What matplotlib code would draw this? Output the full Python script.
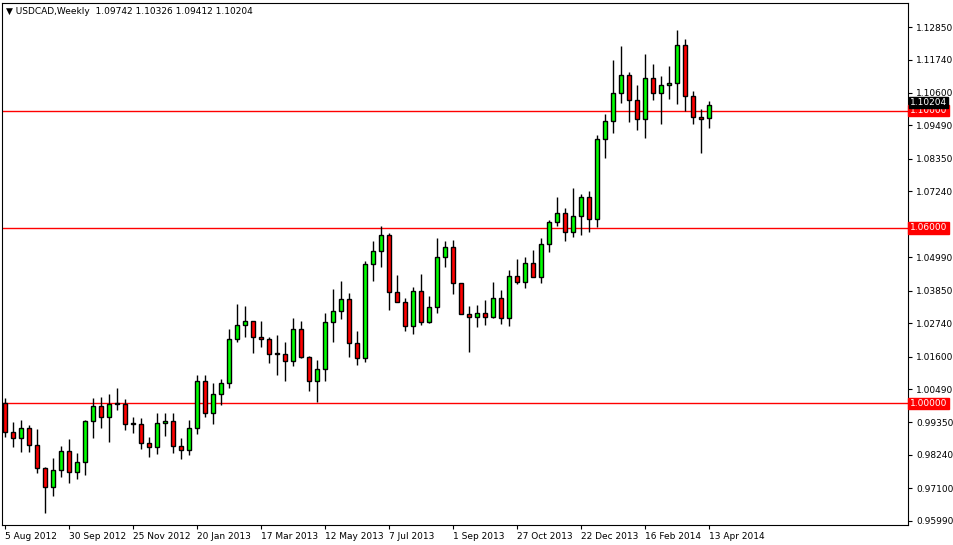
import matplotlib
matplotlib.use("Agg")
import matplotlib.pyplot as plt
import numpy as np

# weekly USDCAD, 5 Aug 2012 .. 13 Apr 2014
close = [0.9903, 0.9882, 0.9916, 0.9858, 0.978, 0.9715, 0.9773, 0.9838, 0.9766, 0.98,
         0.994, 0.9991, 0.9954, 0.9998, 0.9998, 0.993, 0.993, 0.9865, 0.9852, 0.9933,
         0.994, 0.9855, 0.9841, 0.9916, 1.0077, 0.9968, 1.0032, 1.007, 1.022, 1.0268,
         1.0282, 1.0227, 1.022, 1.0169, 1.0169, 1.0145, 1.0254, 1.0159, 1.0077, 1.0118,
         1.0278, 1.0316, 1.0357, 1.0206, 1.0155, 1.0476, 1.052, 1.0575, 1.0381, 1.0346,
         1.0265, 1.0384, 1.0278, 1.0329, 1.05, 1.0534, 1.0411, 1.0305, 1.0295, 1.0309,
         1.0295, 1.036, 1.0292, 1.0435, 1.0415, 1.048, 1.0432, 1.0544, 1.0619, 1.065,
         1.0585, 1.064, 1.0705, 1.063, 1.0903, 1.0964, 1.106, 1.1121, 1.1036, 1.0971,
         1.1111, 1.106, 1.1087, 1.1094, 1.1224, 1.105, 1.0978, 1.0971, 1.10204]
open_ = [1.0002] + close[:-1]
open_[-1] = 1.09742
high = [1.0019, 0.9937, 0.9944, 0.9927, 0.9913, 0.9783, 0.9814, 0.9855, 0.9879, 0.9831,
        0.9944, 1.0019, 1.0022, 1.0032, 1.0053, 1.0015, 0.9954, 0.9951, 0.9886, 0.9968,
        0.9968, 0.9968, 0.9882, 0.9944, 1.0097, 1.0097, 1.0070, 1.0084, 1.0254, 1.0340,
        1.0333, 1.0282, 1.0282, 1.0227, 1.0234, 1.0210, 1.0292, 1.0282, 1.0162, 1.0149,
        1.0309, 1.0391, 1.0418, 1.0377, 1.0247, 1.0486, 1.0555, 1.0606, 1.0582, 1.0439,
        1.0360, 1.0398, 1.0442, 1.0367, 1.0565, 1.0555, 1.0558, 1.0411, 1.0333, 1.0336,
        1.0353, 1.0415, 1.0387, 1.0456, 1.0493, 1.0500, 1.0524, 1.0565, 1.0626, 1.0705,
        1.0667, 1.0736, 1.0715, 1.0725, 1.0916, 1.0988, 1.1172, 1.1220, 1.1131, 1.1087,
        1.1193, 1.1159, 1.1118, 1.1152, 1.1275, 1.1244, 1.1067, 1.1005, 1.10326]
low = [0.9886, 0.9852, 0.9834, 0.9834, 0.9763, 0.9626, 0.9684, 0.9749, 0.9729, 0.9742,
       0.9756, 0.9882, 0.9916, 0.9869, 0.9978, 0.9910, 0.9899, 0.9845, 0.9817, 0.9828,
       0.9889, 0.9831, 0.9811, 0.9824, 0.9896, 0.9954, 0.9930, 0.9995, 1.0053, 1.0210,
       1.0227, 1.0172, 1.0193, 1.0138, 1.0097, 1.0077, 1.0128, 1.0155, 1.0043, 1.0005,
       1.0077, 1.0210, 1.0288, 1.0159, 1.0131, 1.0142, 1.0418, 1.0466, 1.0319, 1.0346,
       1.0247, 1.0237, 1.0268, 1.0275, 1.0309, 1.0466, 1.0374, 1.0305, 1.0176, 1.0261,
       1.0268, 1.0292, 1.0271, 1.0265, 1.0408, 1.0394, 1.0432, 1.0411, 1.0517, 1.0606,
       1.0555, 1.0568, 1.0575, 1.0585, 1.0602, 1.0838, 1.0923, 1.1026, 1.0961, 1.0933,
       1.0906, 1.1036, 1.0954, 1.1039, 1.1022, 1.0998, 1.0954, 1.0855, 1.09412]

date_labels = ["5 Aug 2012", "30 Sep 2012", "25 Nov 2012", "20 Jan 2013", "17 Mar 2013",
               "12 May 2013", "7 Jul 2013", "1 Sep 2013", "27 Oct 2013", "22 Dec 2013",
               "16 Feb 2014", "13 Apr 2014"]
date_idx = [0, 8, 16, 24, 32, 40, 48, 56, 64, 72, 80, 88]
price_ticks = [1.12850, 1.11740, 1.10600, 1.09490, 1.08350, 1.07240, 1.04990, 1.03850,
               1.02740, 1.01600, 1.00490, 0.99350, 0.98240, 0.97100, 0.95990]
levels = [1.10, 1.06, 1.00]

fig = plt.figure(figsize=(9.54, 5.45), dpi=100)
ax = fig.add_axes([2 / 954, 20 / 545, 906 / 954, 522 / 545])
ax.set_xlim(-0.375, 112.9)
ax.set_ylim(0.9585, 1.1367)

x = np.arange(len(close))
o = np.array(open_); c = np.array(close)
cols = np.where(c > o, "#00ff00", np.where(c < o, "#ff0000", "black"))
ax.vlines(x, low, high, color="black", lw=1, zorder=2)
h = np.abs(c - o)
h = np.where(h < 0.0002, 0.0002, h)
ax.bar(x, h, bottom=np.minimum(o, c), width=0.55, color=cols,
       edgecolor="black", lw=1, zorder=3)

for lv in levels:
    ax.axhline(lv, color="#ff0000", lw=1, zorder=1)

ax.yaxis.tick_right()
ax.set_yticks(price_ticks)
ax.set_yticklabels(["%.5f" % p for p in price_ticks], fontsize=6.5)
ax.tick_params(axis="y", length=3, pad=3)
ax.set_xticks(date_idx)
ax.set_xticklabels(date_labels, fontsize=6.5, ha="left")
ax.tick_params(axis="x", length=3, pad=2)
for sp in ax.spines.values():
    sp.set_linewidth(0.8)

# price labels on the right axis
for lv in levels:
    ax.text(1.002, lv, "%.5f" % lv, transform=ax.get_yaxis_transform(), fontsize=6.5,
            color="white", va="center", ha="left",
            bbox=dict(boxstyle="square,pad=0.15", fc="#ff0000", ec="#ff0000"))
ax.text(1.002, close[-1] + 0.0008, "%.5f" % close[-1], transform=ax.get_yaxis_transform(),
        fontsize=6.5, color="white", va="center", ha="left",
        bbox=dict(boxstyle="square,pad=0.1", fc="black", ec="black"))

ax.text(0.004, 0.992, "\u25bc USDCAD,Weekly  %.5f %.5f %.5f %.5f"
        % (open_[-1], high[-1], low[-1], close[-1]),
        transform=ax.transAxes, fontsize=6.5, va="top", ha="left")

fig.savefig("out.png", dpi=100, facecolor="white")
